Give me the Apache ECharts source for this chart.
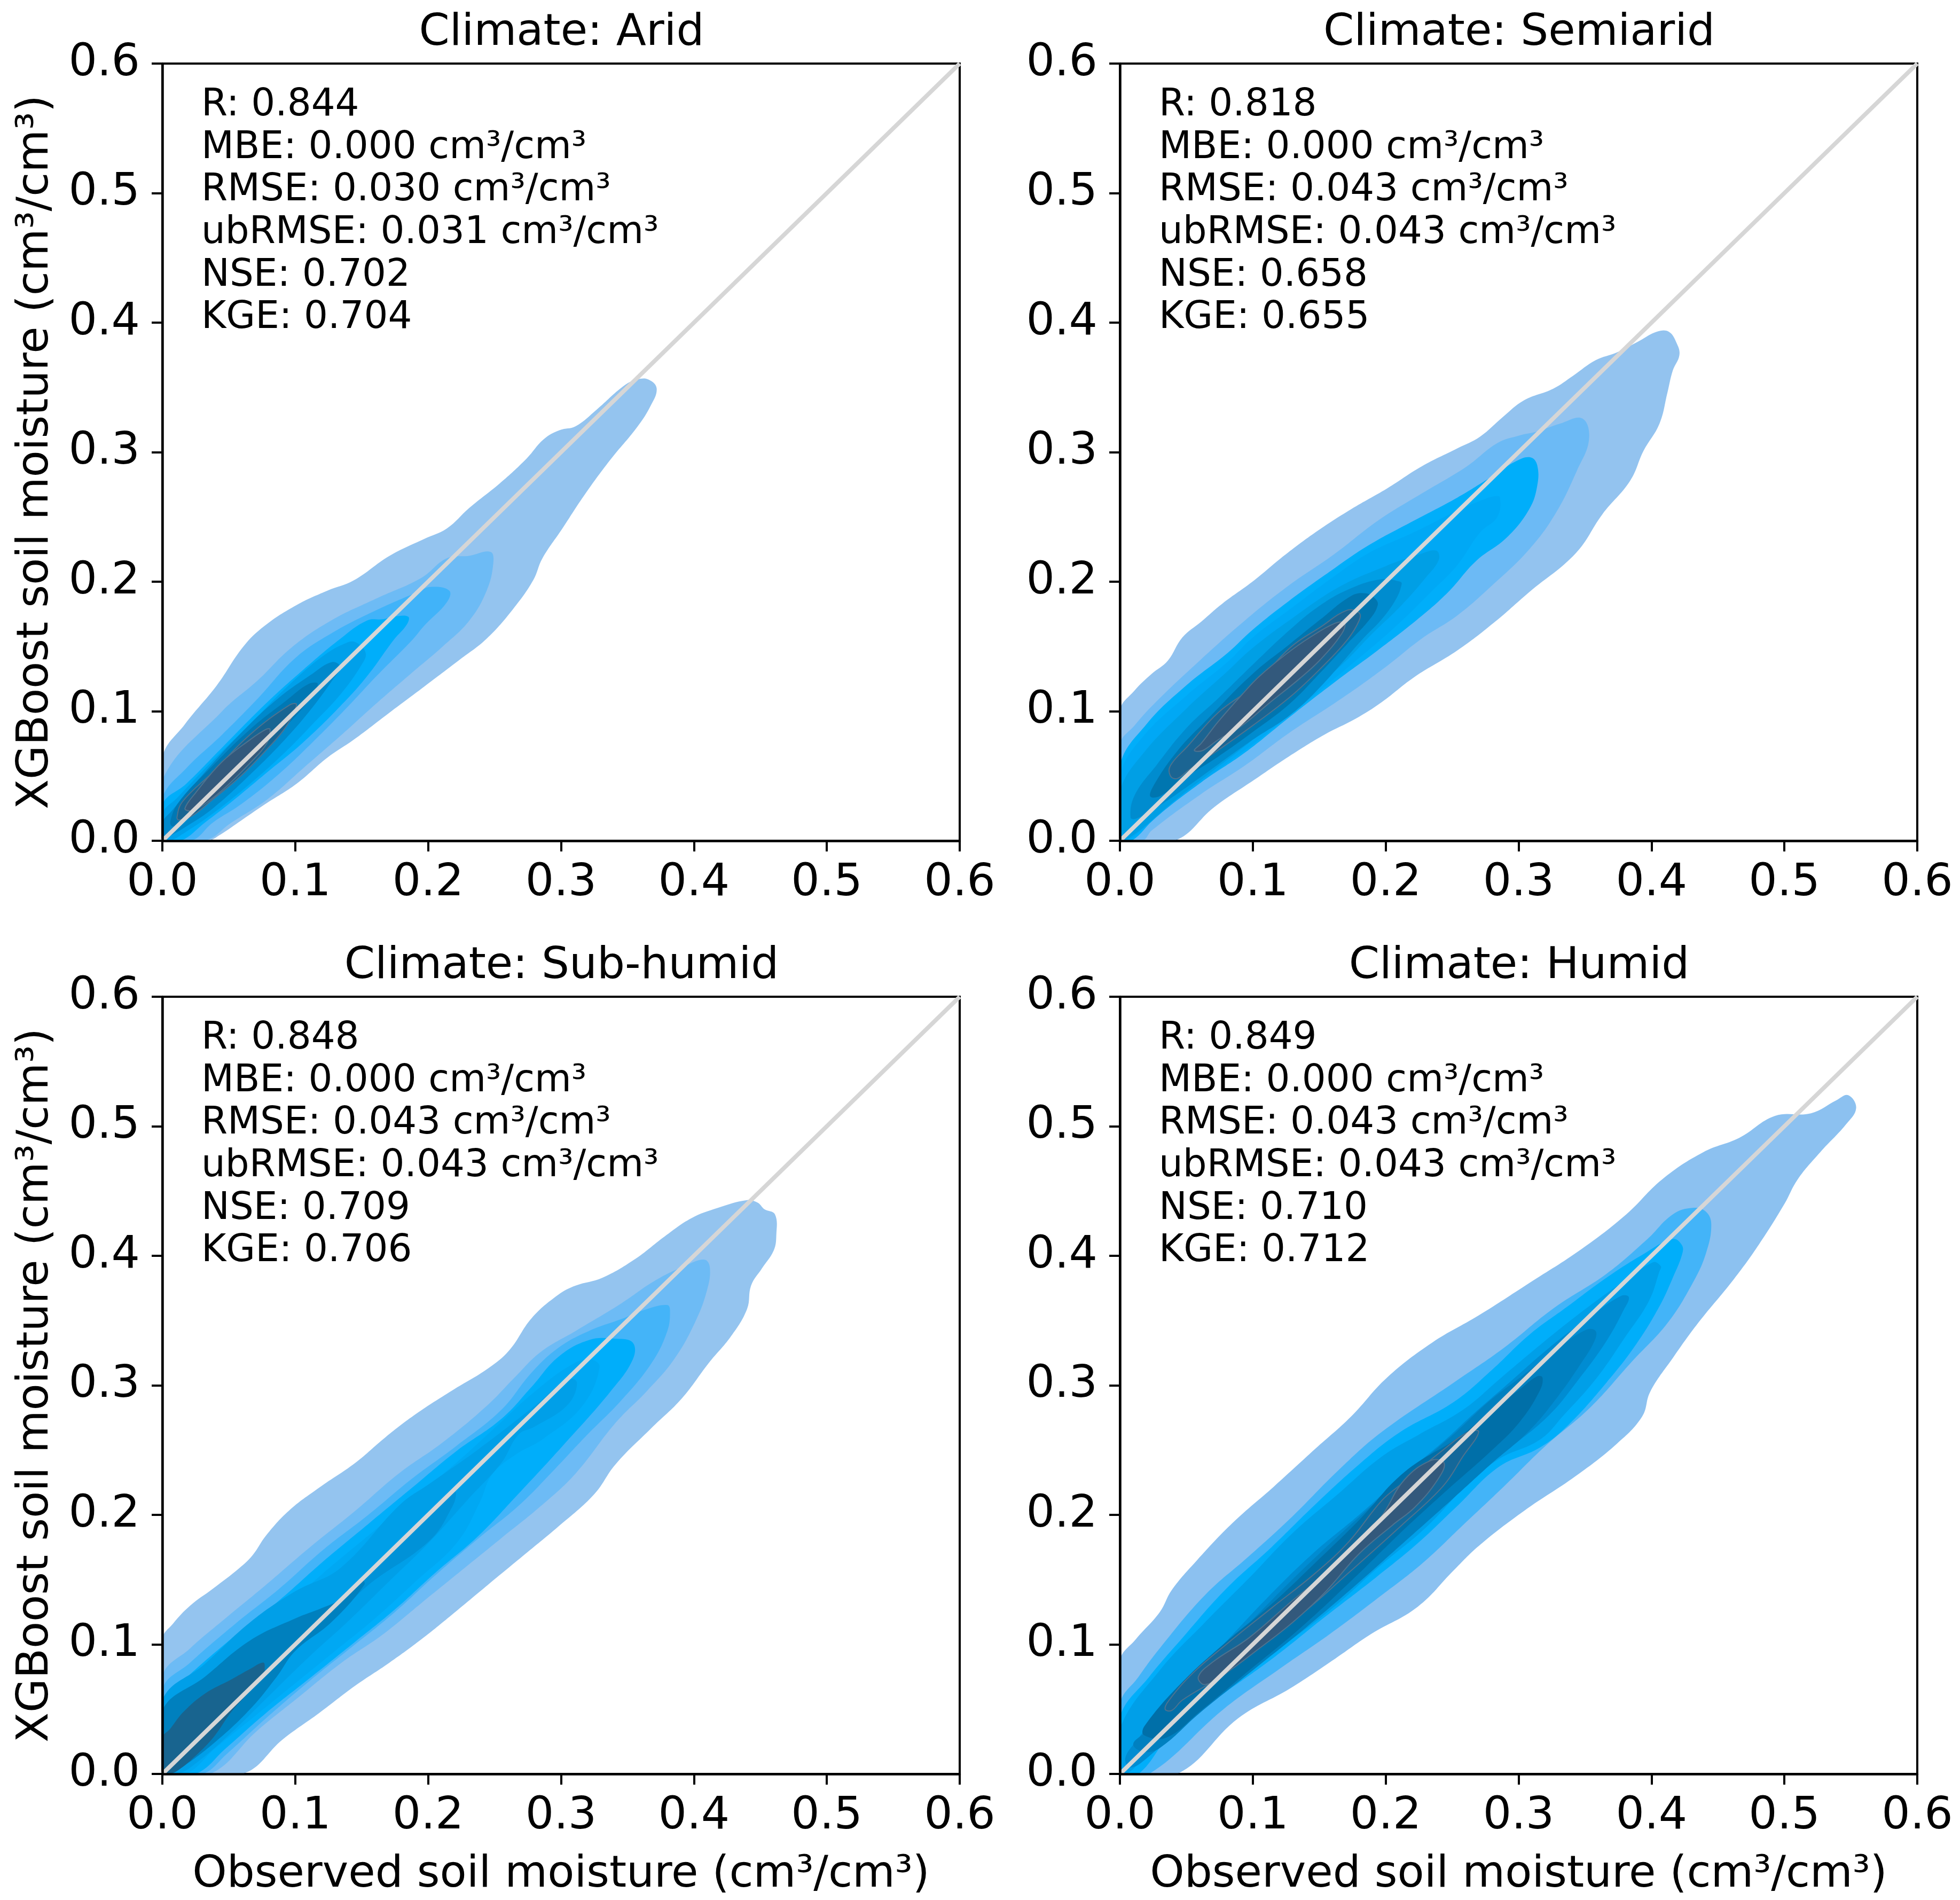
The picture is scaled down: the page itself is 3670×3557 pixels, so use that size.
<!DOCTYPE html>
<html><head><meta charset="utf-8">
<style>html,body{margin:0;padding:0;background:#fff}#c{width:3670px;height:3557px}</style>
<script src="https://cdn.jsdelivr.net/npm/echarts@6/dist/echarts.min.js"></script>
</head><body><div id="c"></div>
<script>
const panelNames = ['Climate: Arid','Climate: Semiarid','Climate: Sub-humid','Climate: Humid'];
const tickValues = [0,0.1,0.2,0.3,0.4,0.5,0.6];
const xName = 'Observed soil moisture (cm³/cm³)';
const yName = 'XGBoost soil moisture (cm³/cm³)';
const identityLine = [[0,0],[0.6,0.6]];
const aridStats = ['0.844','0.000','0.030','0.031','0.702','0.704'];
const semiaridStats = ['0.818','0.000','0.043','0.043','0.658','0.655'];
const subhumidStats = ['0.848','0.000','0.043','0.043','0.709','0.706'];
const humidStats = ['0.849','0.000','0.043','0.043','0.710','0.712'];

const arid1 = [[0,.064],[.017,.090],[.041,.120],[.061,.150],[.077,.166],[.101,.182],[.124,.193],[.144,.201],[.171,.220],[.197,.233],[.214,.241],[.231,.257],[.254,.276],[.274,.295],[.287,.310],[.299,.317],[.311,.320],[.327,.333],[.347,.351],[.357,.356],[.366,.356],[.372,.349],[.367,.335],[.357,.319],[.337,.294],[.317,.266],[.301,.241],[.286,.218],[.279,.201],[.264,.179],[.244,.156],[.224,.140],[.197,.119],[.171,.099],[.144,.078],[.124,.064],[.101,.044],[.077,.028],[.057,.014],[.044,.005],[.034,0],[0,0]];
const arid2 = [[0,.047],[.045,.100],[.072,.124],[.097,.149],[.127,.170],[.161,.187],[.195,.203],[.214,.218],[.231,.220],[.247,.223],[.249,.214],[.244,.193],[.231,.170],[.211,.150],[.187,.129],[.161,.106],[.134,.081],[.106,.056],[.079,.032],[.052,.014],[.032,0],[0,0]];
const arid3 = [[0,.033],[.018,.056],[.045,.082],[.072,.110],[.100,.141],[.127,.160],[.161,.178],[.192,.192],[.202,.196],[.216,.193],[.214,.184],[.197,.166],[.188,.155],[.161,.127],[.140,.104],[.113,.076],[.086,.050],[.059,.028],[.038,.014],[.022,0],[0,0]];
const arid4 = [[0,.028],[.018,.044],[.045,.072],[.079,.107],[.106,.132],[.134,.156],[.154,.170],[.166,.171],[.174,.173],[.185,.173],[.184,.167],[.174,.155],[.154,.127],[.134,.104],[.106,.076],[.079,.053],[.052,.030],[.032,.014],[.014,0],[0,0]];
const arid5 = [[0,.021],[.011,.033],[.038,.062],[.066,.090],[.093,.118],[.120,.142],[.139,.153],[.146,.153],[.153,.145],[.150,.136],[.134,.113],[.113,.090],[.093,.069],[.066,.044],[.038,.021],[.018,.007],[.006,0],[0,0]];
const arid6 = [[0,.014],[.007,.023],[.032,.053],[.059,.083],[.086,.109],[.113,.129],[.128,.138],[.134,.134],[.128,.124],[.113,.103],[.093,.079],[.066,.051],[.038,.025],[.018,.011],[.004,.0025],[0,0]];
const arid7 = [[.006,.015],[.0125,.030],[.038,.058],[.066,.086],[.093,.108],[.110,.121],[.117,.121],[.110,.108],[.093,.088],[.066,.057],[.038,.032],[.018,.016],[.008,.011]];
const arid8 = [[.011,.018],[.015,.030],[.038,.053],[.066,.082],[.096,.105],[.101,.105],[.093,.088],[.079,.071],[.059,.050],[.038,.032],[.022,.019],[.0125,.016]];
const arid9 = [[.017,.025],[.025,.037],[.045,.061],[.066,.078],[.078,.086],[.081,.086],[.079,.076],[.066,.060],[.045,.039],[.027,.025],[.021,.023]];

const semi1 = [[0,.100],[.011,.116],[.024,.129],[.036,.139],[.047,.157],[.061,.169],[.077,.183],[.101,.201],[.121,.218],[.147,.238],[.174,.256],[.201,.272],[.227,.289],[.254,.303],[.271,.312],[.288,.327],[.304,.340],[.326,.349],[.341,.359],[.358,.371],[.374,.377],[.391,.386],[.404,.393],[.413,.393],[.419,.384],[.421,.375],[.416,.363],[.412,.346],[.406,.322],[.394,.301],[.384,.278],[.363,.252],[.343,.222],[.308,.192],[.281,.168],[.254,.147],[.221,.126],[.197,.107],[.177,.094],[.154,.082],[.127,.065],[.101,.047],[.071,.026],[.041,0],[0,0]];
const semi2 = [[0,.074],[.011,.089],[.027,.107],[.061,.140],[.094,.170],[.127,.197],[.161,.221],[.194,.247],[.227,.268],[.261,.289],[.284,.307],[.301,.313],[.314,.316],[.331,.322],[.348,.326],[.353,.310],[.344,.286],[.328,.253],[.308,.225],[.281,.198],[.254,.174],[.227,.156],[.201,.135],[.167,.110],[.127,.083],[.094,.058],[.061,.036],[.024,.008],[.017,0],[0,0]];
const semi3 = [[0,.058],[.020,.090],[.050,.120],[.081,.145],[.100,.163],[.127,.185],[.161,.210],[.187,.228],[.221,.247],[.254,.265],[.278,.280],[.298,.293],[.309,.296],[.314,.290],[.314,.274],[.308,.256],[.291,.234],[.268,.216],[.247,.192],[.224,.171],[.194,.147],[.161,.122],[.127,.095],[.094,.068],[.061,.045],[.027,.018],[.009,0],[0,0]];
const semi4 = [[0,.050],[.017,.080],[.050,.112],[.081,.138],[.100,.157],[.127,.178],[.161,.204],[.187,.222],[.221,.238],[.254,.255],[.270,.262],[.282,.266],[.286,.265],[.284,.250],[.271,.238],[.254,.213],[.234,.192],[.207,.165],[.174,.136],[.141,.108],[.107,.080],[.074,.055],[.041,.030],[.006,0],[0,0]];
const semi5 = [[0,.038],[.018,.068],[.050,.102],[.080,.130],[.100,.149],[.130,.172],[.165,.196],[.200,.212],[.225,.221],[.238,.224],[.240,.217],[.230,.203],[.212,.182],[.190,.160],[.165,.134],[.130,.105],[.100,.078],[.070,.054],[.040,.030],[.015,.008],[.003,0],[0,0]];
const semi6 = [[.008,.018],[.011,.035],[.028,.059],[.051,.088],[.074,.110],[.100,.136],[.128,.163],[.151,.182],[.174,.195],[.197,.202],[.211,.200],[.212,.198],[.208,.187],[.197,.171],[.182,.155],[.151,.119],[.128,.097],[.100,.078],[.074,.059],[.051,.042],[.028,.026],[.012,.017]];
const semi7 = [[.023,.034],[.025,.042],[.043,.069],[.066,.094],[.100,.129],[.128,.152],[.151,.171],[.174,.189],[.185,.191],[.192,.187],[.194,.182],[.188,.171],[.171,.152],[.151,.130],[.128,.106],[.100,.084],[.074,.065],[.051,.050],[.031,.035]];
const semi8 = [[.038,.050],[.038,.058],[.051,.073],[.074,.099],[.100,.119],[.128,.149],[.151,.165],[.171,.178],[.180,.176],[.180,.170],[.171,.155],[.151,.133],[.128,.111],[.100,.089],[.074,.070],[.051,.054],[.043,.048]];
const semi9 = [[.056,.070],[.061,.075],[.074,.092],[.092,.113],[.105,.127],[.125,.144],[.143,.157],[.162,.168],[.169,.168],[.167,.160],[.151,.140],[.135,.125],[.112,.106],[.092,.089],[.074,.078],[.063,.070],[.058,.069]];

const subh1 = [[0,.104],[.008,.116],[.021,.130],[.038,.143],[.058,.159],[.068,.169],[.078,.184],[.095,.203],[.118,.221],[.145,.240],[.168,.260],[.191,.278],[.218,.296],[.245,.313],[.261,.327],[.278,.352],[.298,.370],[.311,.377],[.331,.383],[.355,.397],[.378,.415],[.398,.429],[.418,.437],[.440,.443],[.448,.441],[.453,.436],[.461,.432],[.462,.416],[.460,.404],[.451,.390],[.443,.377],[.440,.359],[.428,.338],[.411,.317],[.391,.290],[.368,.267],[.341,.239],[.325,.216],[.298,.191],[.271,.168],[.245,.146],[.218,.123],[.195,.104],[.171,.086],[.145,.068],[.118,.047],[.091,.027],[.060,0],[0,0]];
const subh2 = [[0,.075],[.021,.097],[.045,.118],[.078,.146],[.111,.175],[.145,.203],[.178,.232],[.211,.256],[.245,.285],[.265,.306],[.285,.326],[.311,.342],[.345,.363],[.371,.381],[.395,.393],[.408,.397],[.412,.391],[.410,.374],[.401,.349],[.385,.320],[.365,.296],[.341,.271],[.311,.232],[.285,.207],[.255,.182],[.225,.157],[.195,.132],[.165,.107],[.135,.086],[.101,.058],[.071,.033],[.036,0],[0,0]];
const subh3 = [[0,.065],[.021,.086],[.055,.116],[.088,.143],[.121,.173],[.155,.200],[.188,.228],[.221,.253],[.255,.281],[.278,.310],[.298,.329],[.321,.342],[.345,.351],[.365,.359],[.380,.362],[.382,.358],[.380,.342],[.368,.317],[.345,.288],[.318,.260],[.295,.235],[.268,.207],[.238,.182],[.205,.153],[.175,.125],[.145,.100],[.111,.072],[.078,.043],[.048,.015],[.030,0],[0,0]];
const subh4 = [[0,.056],[.021,.077],[.055,.107],[.088,.134],[.121,.164],[.155,.193],[.188,.221],[.221,.249],[.255,.274],[.278,.299],[.298,.322],[.321,.335],[.341,.336],[.354,.333],[.354,.320],[.337,.295],[.301,.253],[.265,.213],[.237,.183],[.205,.155],[.175,.127],[.145,.102],[.111,.074],[.078,.047],[.048,.020],[.025,0],[0,0]];
const subh5 = [[0,.048],[.021,.068],[.055,.098],[.088,.125],[.121,.155],[.155,.184],[.188,.212],[.221,.240],[.251,.268],[.280,.295],[.308,.316],[.322,.320],[.329,.314],[.316,.284],[.287,.259],[.265,.246],[.248,.231],[.239,.210],[.222,.179],[.190,.148],[.160,.120],[.130,.095],[.100,.070],[.070,.045],[.040,.020],[.018,0],[0,0]];
const subh6 = [[0,.057],[.032,.085],[.066,.117],[.100,.141],[.134,.159],[.179,.208],[.201,.224],[.237,.250],[.280,.284],[.305,.305],[.312,.302],[.305,.285],[.280,.268],[.268,.262],[.255,.240],[.230,.212],[.200,.178],[.170,.148],[.140,.118],[.110,.090],[.080,.060],[.050,.030],[.025,.008],[.012,0],[0,0]];
const subh7 = [[0,.049],[.032,.075],[.066,.103],[.100,.120],[.120,.128],[.134,.135],[.160,.160],[.190,.190],[.218,.218],[.221,.217],[.218,.206],[.201,.180],[.154,.145],[.127,.117],[.100,.095],[.086,.075],[.066,.050],[.039,.024],[.012,.003],[.006,0],[0,0]];
const subh8 = [[0,.049],[.032,.075],[.066,.103],[.100,.120],[.120,.128],[.134,.135],[.150,.150],[.152,.146],[.127,.117],[.100,.095],[.086,.075],[.066,.050],[.039,.024],[.012,.003],[.006,0],[0,0]];
const subh9 = [[0,.028],[.006,.035],[.016,.048],[.032,.062],[.052,.073],[.066,.081],[.076,.086],[.077,.081],[.076,.076],[.066,.064],[.052,.048],[.039,.029],[.025,.014],[.012,.003],[.005,0],[0,0]];

const humid1 = [[0,.087],[.012,.104],[.030,.125],[.039,.142],[.058,.165],[.085,.194],[.116,.222],[.147,.251],[.174,.276],[.201,.306],[.235,.333],[.270,.354],[.308,.379],[.347,.405],[.381,.432],[.408,.459],[.439,.480],[.466,.491],[.493,.508],[.520,.510],[.539,.520],[.548,.524],[.554,.514],[.546,.501],[.527,.480],[.510,.459],[.500,.440],[.481,.409],[.462,.382],[.435,.348],[.416,.321],[.399,.295],[.393,.276],[.374,.255],[.343,.230],[.304,.203],[.270,.176],[.251,.157],[.224,.129],[.189,.108],[.162,.089],[.128,.066],[.089,.043],[.043,0],[0,0]];
const humid2 = [[0,.054],[.014,.075],[.030,.097],[.064,.138],[.097,.168],[.130,.199],[.164,.234],[.197,.264],[.251,.302],[.289,.329],[.327,.360],[.366,.386],[.397,.413],[.416,.432],[.431,.437],[.441,.434],[.445,.424],[.441,.402],[.431,.379],[.412,.348],[.385,.318],[.354,.283],[.320,.253],[.289,.222],[.258,.192],[.228,.163],[.197,.138],[.158,.108],[.120,.081],[.078,.050],[.022,0],[0,0]];
const humid3 = [[0,.044],[.022,.075],[.047,.105],[.080,.143],[.114,.175],[.147,.208],[.180,.239],[.211,.264],[.251,.287],[.280,.312],[.308,.339],[.337,.361],[.366,.383],[.395,.402],[.416,.413],[.423,.408],[.423,.401],[.416,.383],[.406,.361],[.388,.331],[.366,.302],[.337,.269],[.316,.252],[.285,.237],[.254,.207],[.224,.178],[.193,.152],[.154,.121],[.116,.090],[.078,.062],[.040,.033],[.014,0],[0,0]];
const humid4 = [[0,.035],[.030,.080],[.064,.117],[.097,.151],[.130,.186],[.164,.216],[.197,.245],[.225,.262],[.258,.281],[.287,.306],[.316,.331],[.344,.354],[.373,.376],[.401,.395],[.407,.392],[.406,.388],[.398,.365],[.380,.337],[.359,.306],[.334,.277],[.316,.258],[.285,.243],[.260,.222],[.230,.190],[.195,.160],[.160,.128],[.120,.097],[.080,.068],[.045,.038],[.015,.009],[.005,0],[0,0]];
const humid5 = [[.004,.012],[.012,.025],[.040,.060],[.075,.097],[.110,.135],[.145,.170],[.180,.200],[.215,.232],[.245,.258],[.265,.277],[.294,.303],[.323,.329],[.351,.351],[.377,.369],[.383,.368],[.379,.358],[.366,.334],[.344,.303],[.323,.277],[.294,.252],[.265,.228],[.235,.200],[.200,.170],[.165,.138],[.125,.105],[.085,.072],[.050,.040],[.020,.012],[.008,.005]];
const humid6 = [[.010,.023],[.020,.033],[.045,.062],[.080,.098],[.115,.135],[.150,.170],[.185,.203],[.220,.235],[.254,.265],[.277,.287],[.301,.306],[.330,.329],[.351,.343],[.358,.342],[.357,.334],[.347,.317],[.330,.292],[.308,.265],[.280,.240],[.250,.212],[.215,.180],[.180,.148],[.140,.113],[.100,.080],[.060,.047],[.030,.020],[.018,.017]];
const humid7 = [[.018,.030],[.0185,.037],[.047,.071],[.080,.102],[.114,.131],[.147,.163],[.180,.196],[.214,.233],[.255,.260],[.280,.281],[.301,.297],[.314,.307],[.318,.306],[.316,.296],[.301,.272],[.280,.250],[.245,.218],[.210,.185],[.175,.150],[.135,.112],[.095,.078],[.060,.048],[.035,.028]];
const humid8 = [[.034,.050],[.037,.057],[.055,.078],[.080,.100],[.114,.128],[.147,.155],[.172,.179],[.197,.211],[.212,.224],[.243,.250],[.262,.264],[.270,.264],[.258,.245],[.243,.222],[.212,.192],[.174,.157],[.135,.122],[.100,.097],[.080,.078],[.047,.057],[.039,.049]];
const humid9 = [[.059,.075],[.070,.0865],[.097,.105],[.130,.134],[.164,.163],[.189,.191],[.197,.199],[.214,.227],[.234,.242],[.244,.240],[.239,.227],[.222,.206],[.205,.192],[.180,.170],[.155,.141],[.130,.117],[.105,.097],[.080,.078],[.064,.069]];

const aridLevels = [arid1,arid2,arid3,arid4,arid5,arid6,arid7,arid8,arid9];
const semiLevels = [semi1,semi2,semi3,semi4,semi5,semi6,semi7,semi8,semi9];
const subhLevels = [subh1,subh2,subh3,subh4,subh5,subh6,subh7,subh8,subh9];
const humidLevels = [humid1,humid2,humid3,humid4,humid5,humid6,humid7,humid8,humid9];

const aridColors = ['#94c4ef','#6dbbf5','#41b3f9','#00aefa','#00a0ea','#0089cc','#0078b4','#186593','#33597c'];
const semiColors = ['#93c3ef','#6cbaf5','#00aefa','#00a8f5','#009fe5','#008ccf','#0076b0','#1b6593','#33597c'];
const subhColors = ['#94c4ef','#6dbbf5','#44b4f8','#00aefa','#00a8f3','#009fe8','#0092d8','#0080be','#18648f'];
const humidColors = ['#8cc1f0','#43b4f8','#00aefa','#009fe8','#008cd2','#0080c0','#006fa8','#14689a','#33597c'];

const FONT = 'DejaVu Sans';
const lefts = [304,2097,304,2097], tops = [119,119,1866,1866];
const W = 1493, H = 1455;
const allLevels = [aridLevels,semiLevels,subhLevels,humidLevels];
const allColors = [aridColors,semiColors,subhColors,humidColors];
const allStats = [aridStats,semiaridStats,subhumidStats,humidStats];
const unit = ' cm³/cm³';

const grid=[],xAxis=[],yAxis=[],series=[],title=[];
panelNames.forEach((name,p)=>{
  grid.push({left:lefts[p],top:tops[p],width:W,height:H,show:true,borderColor:'#000',borderWidth:4,backgroundColor:'#fff'});
  const axisBase={min:0,max:0.6,interval:0.1,type:'value',z:10,splitLine:{show:false},
    axisLine:{show:true,onZero:false,lineStyle:{color:'#000',width:4.5}},
    axisTick:{show:true,inside:false,length:20,lineStyle:{color:'#000',width:4}},
    nameTextStyle:{fontFamily:FONT,fontSize:82,color:'#000'}};
  const labelBase={fontFamily:FONT,fontSize:84,color:'#000',showMinLabel:true,showMaxLabel:true,hideOverlap:false,formatter:v=>v.toFixed(1)};
  xAxis.push(Object.assign({},axisBase,{gridIndex:p,position:'bottom',nameLocation:'middle',nameGap:149,name:p>=2?xName:'',
    axisLabel:Object.assign({},labelBase,{margin:38})}));
  yAxis.push(Object.assign({},axisBase,{gridIndex:p,position:'left',nameLocation:'middle',nameGap:195,name:p%2===0?yName:'',
    axisLabel:Object.assign({},labelBase,{margin:42,padding:[12,0,0,0]})}));
  allLevels[p].forEach((poly,k)=>{
    const edged=k>=7&&p!==2;
    series.push({type:'custom',xAxisIndex:p,yAxisIndex:p,clip:true,silent:true,z:3,encode:{x:0,y:1},data:poly,
      renderItem:(params,api)=>{
        if(params.dataIndex!==0) return null;
        return {type:'polygon',shape:{points:poly.map(pt=>api.coord(pt)),smooth:0.4},
          style:{fill:allColors[p][k],stroke:edged?'#4e7390':null,lineWidth:edged?2:0}};
      }});
  });
  series.push({type:'line',xAxisIndex:p,yAxisIndex:p,z:6,data:identityLine,symbol:'none',silent:true,lineStyle:{color:'#d6d6d6',width:8}});
  title.push({text:name,left:lefts[p]+W/2-4,top:tops[p]-102,textAlign:'center',textStyle:{fontFamily:FONT,fontSize:82,fontWeight:'normal',color:'#000'}});
  const s=allStats[p];
  title.push({text:['R: '+s[0],'MBE: '+s[1]+unit,'RMSE: '+s[2]+unit,'ubRMSE: '+s[3]+unit,'NSE: '+s[4],'KGE: '+s[5]].join('\n'),
    left:lefts[p]+68,top:tops[p]+34,textStyle:{fontFamily:FONT,fontSize:70.7,fontWeight:'normal',color:'#000',lineHeight:79.6}});
});
const chart=echarts.init(document.getElementById('c'),null,{renderer:'canvas'});
chart.setOption({animation:false,backgroundColor:'#fff',title,grid,xAxis,yAxis,series,tooltip:{show:false},legend:{show:false}});
</script></body></html>
